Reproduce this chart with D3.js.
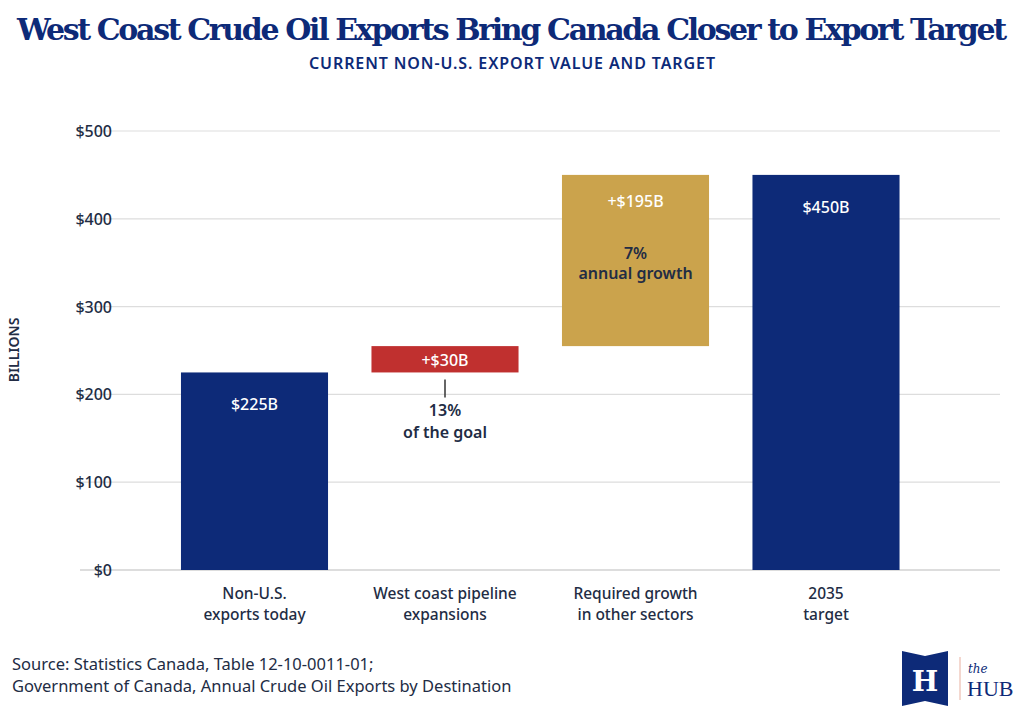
<!DOCTYPE html><html><head><meta charset="utf-8"><script src="https://cdn.jsdelivr.net/npm/d3@7"></script>
<style>body{margin:0;background:#fff}svg{font-family:"Noto Sans",sans-serif}</style></head><body><svg id="c" width="1024" height="717"></svg>
<script>
const categories=[["Non-U.S.","exports today"],["West coast pipeline","expansions"],["Required growth","in other sectors"],["2035","target"]];
const starts=[0,225,255,0];
const ends=[225,255,450,450];
const labels=["$225B","+$30B","+$195B","$450B"];
const colors=["#0d2a78","#c0302f","#cba34c","#0d2a78"];
const ticks=[0,100,200,300,400,500];
const svg=d3.select("#c");
const navy="#0d2a78";
const y=d3.scaleLinear().domain([0,500]).range([570,131]);
const x=d3.scaleBand().domain(d3.range(4)).range([159.25,921.25]).paddingInner(0.228).paddingOuter(0.114);
svg.append("text").attr("x",512).attr("y",40).attr("text-anchor","middle").attr("font-family","'DejaVu Serif',serif").attr("font-weight","bold").attr("font-size",30).attr("fill",navy).attr("textLength",990).text("West Coast Crude Oil Exports Bring Canada Closer to Export Target");
svg.append("text").attr("x",512).attr("y",69).attr("text-anchor","middle").attr("font-weight",600).attr("font-size",16).attr("fill",navy).attr("textLength",406).text("CURRENT NON-U.S. EXPORT VALUE AND TARGET");
ticks.forEach(t=>{
 svg.append("line").attr("x1",80).attr("x2",1000).attr("y1",y(t)).attr("y2",y(t)).attr("stroke",t===0?"#bbb":"#ddd").attr("stroke-width",1.2);
 svg.append("text").attr("x",112).attr("y",y(t)+6).attr("text-anchor","end").attr("font-size",16).attr("font-weight",500).attr("fill","#222c44").text("$"+t);
});
svg.append("text").attr("transform","translate(19,350) rotate(-90)").attr("text-anchor","middle").attr("font-size",14).attr("font-weight",600).attr("fill","#222c44").text("BILLIONS");
categories.forEach((c,i)=>{
 const cx=x(i)+x.bandwidth()/2;
 svg.append("rect").attr("x",x(i)).attr("width",x.bandwidth()).attr("y",y(ends[i])).attr("height",y(starts[i])-y(ends[i])).attr("fill",colors[i]);
 svg.append("text").attr("x",cx).attr("y",i===1?y(ends[i])+20:(i===2?y(ends[i])+32:y(ends[i])+38)).attr("text-anchor","middle").attr("font-size",16).attr("fill","#fff").attr("font-weight",500).text(labels[i]);
 c.forEach((l,j)=>svg.append("text").attr("x",cx).attr("y",599+j*21).attr("text-anchor","middle").attr("font-size",15.5).attr("font-weight",500).attr("fill","#222c44").text(l));
});
const c2=x(2)+x.bandwidth()/2;
svg.append("text").attr("x",c2).attr("y",259).attr("text-anchor","middle").attr("font-size",16).attr("font-weight",600).attr("fill","#222c44").text("7%");
svg.append("text").attr("x",c2).attr("y",279).attr("text-anchor","middle").attr("font-size",16).attr("font-weight",600).attr("fill","#222c44").text("annual growth");
const c1=x(1)+x.bandwidth()/2;
svg.append("line").attr("x1",c1).attr("x2",c1).attr("y1",y(225)+7).attr("y2",y(225)+25).attr("stroke","#333").attr("stroke-width",1.5);
svg.append("text").attr("x",c1).attr("y",416).attr("text-anchor","middle").attr("font-size",16).attr("font-weight",600).attr("fill","#222c44").text("13%");
svg.append("text").attr("x",c1).attr("y",438).attr("text-anchor","middle").attr("font-size",16).attr("font-weight",600).attr("fill","#222c44").text("of the goal");
svg.append("text").attr("x",12).attr("y",670).attr("font-size",16.5).attr("fill","#222c44").text("Source: Statistics Canada, Table 12-10-0011-01;");
svg.append("text").attr("x",12).attr("y",692).attr("font-size",16.5).attr("fill","#222c44").text("Government of Canada, Annual Crude Oil Exports by Destination");
svg.append("path").attr("d","M902,651 L925,656 L948,651 L948,706 L925,701 L902,706 Z").attr("fill",navy);
svg.append("text").attr("x",925).attr("y",691).attr("text-anchor","middle").attr("font-family","'DejaVu Serif',serif").attr("font-size",28).attr("font-weight","bold").attr("fill","#fff").text("H");
svg.append("line").attr("x1",960).attr("x2",960).attr("y1",657).attr("y2",700).attr("stroke","#e8b0a0");
svg.append("text").attr("x",968).attr("y",673).attr("font-family","'DejaVu Serif',serif").attr("font-style","italic").attr("font-size",12).attr("fill",navy).text("the");
svg.append("text").attr("x",967).attr("y",696).attr("font-family","'Liberation Serif',serif").attr("font-size",22).attr("fill",navy).text("HUB");
</script></body></html>
